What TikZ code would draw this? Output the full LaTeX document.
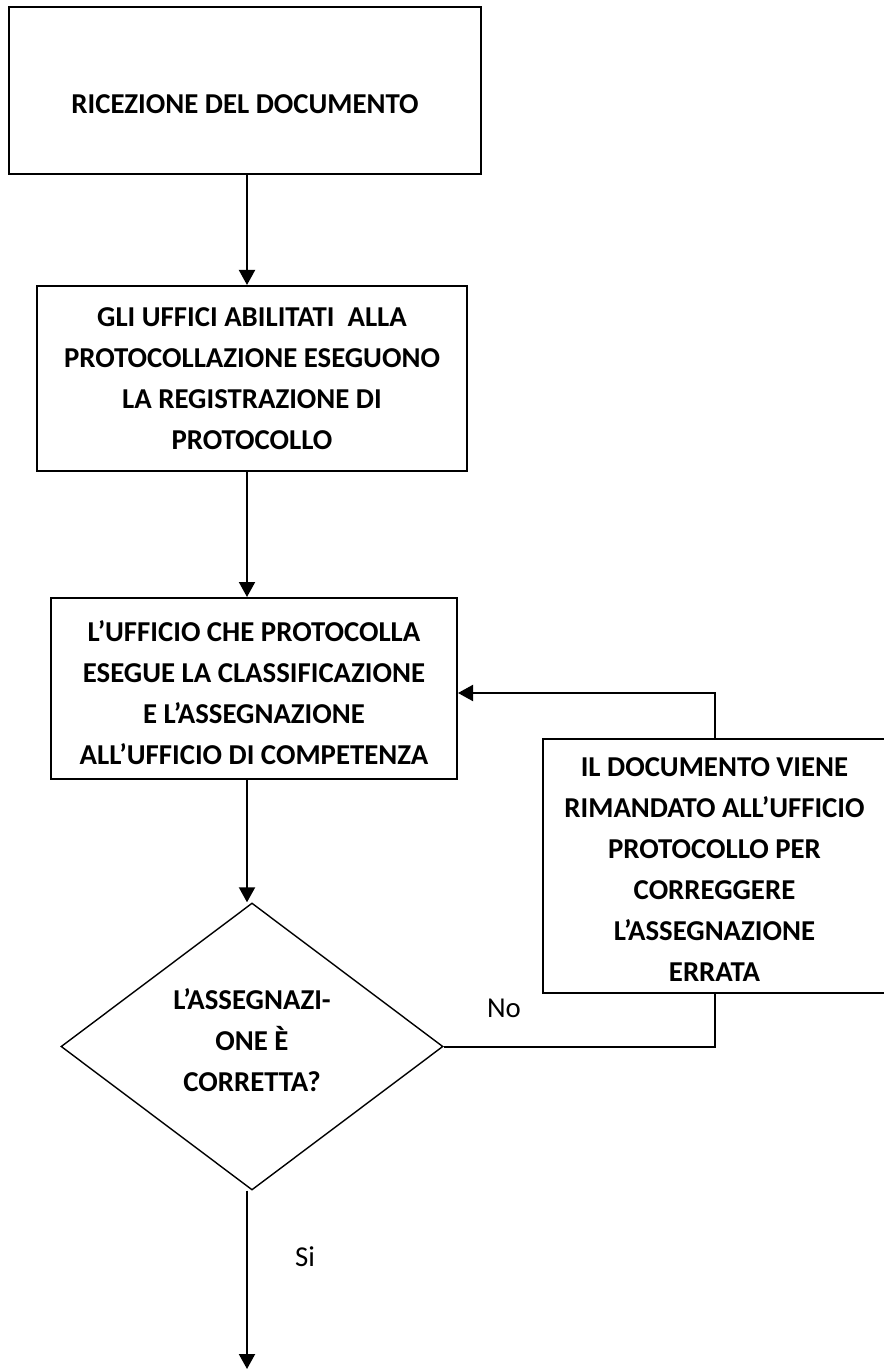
\documentclass[tikz,border=0pt]{standalone}
\usepackage{fontspec}
\setmainfont{Carlito}
\usepackage{tikz}
\usetikzlibrary{arrows.meta,shapes.geometric}

\tikzset{
  box/.style={draw, line width=1pt, rectangle, align=center, inner sep=0pt,
    font=\fontsize{14.4}{20.5}\selectfont\bfseries},
  dec/.style={draw, line width=0.7pt, diamond, align=center, inner sep=0pt,
    minimum width=191pt, minimum height=143.5pt,
    font=\fontsize{14.4}{20.5}\selectfont\bfseries},
  lbl/.style={font=\fontsize{14.4}{16}\selectfont},
  flow/.style={line width=1pt, -{Triangle[length=7.5pt,width=8pt]}}
}

\begin{document}
\begin{tikzpicture}[x=0.5pt, y=-0.5pt]
      \useasboundingbox (0, 0) rectangle (883, 1369);
      \coordinate (axis) at (247, 0);
      \coordinate (out) at (247, 1369);

      \draw (245, 90.5) node[box, minimum width=236pt, minimum height=83.5pt, text height=22.8pt] (recv)
        {RICEZIONE DEL DOCUMENTO};
      \draw (252, 378.5) node[box, minimum width=215pt, minimum height=92.5pt] (reg)
        {GLI UFFICI ABILITATI \ ALLA\\PROTOCOLLAZIONE ESEGUONO\\LA REGISTRAZIONE DI\\PROTOCOLLO};
      \draw (254, 688.5) node[box, minimum width=203pt, minimum height=90.5pt, text height=75.7pt] (assign)
        {L’UFFICIO CHE PROTOCOLLA\\ESEGUE LA CLASSIFICAZIONE\\E L’ASSEGNAZIONE\\ALL’UFFICIO DI COMPETENZA};
      \draw (252, 1046.5) node[dec, text height=45.2pt] (check)
        {L’ASSEGNAZI-\\ONE È\\CORRETTA?};
      \draw (714.5, 866) node[box, minimum width=172pt, minimum height=127pt, text height=115.7pt] (back)
        {IL DOCUMENTO VIENE\\RIMANDATO ALL’UFFICIO\\PROTOCOLLO PER\\CORREGGERE\\L’ASSEGNAZIONE\\ERRATA};

      \draw[flow] (recv.south -| axis) -- (reg.north -| axis);
      \draw[flow] (reg.south -| axis) -- (assign.north -| axis);
      \draw[flow] (assign.south -| axis) -- (check.north -| axis);
      \draw[flow] (check.south -| axis) -- (out);

      \draw[line width=1pt] (check.east) -| (back.south);
      \draw[flow] (back.north) |- ([yshift=-2.25pt]assign.east);

      \draw (504, 1008) node[lbl] (no) {No};
      \draw (305, 1257) node[lbl] (si) {Si};
\end{tikzpicture}
\end{document}
